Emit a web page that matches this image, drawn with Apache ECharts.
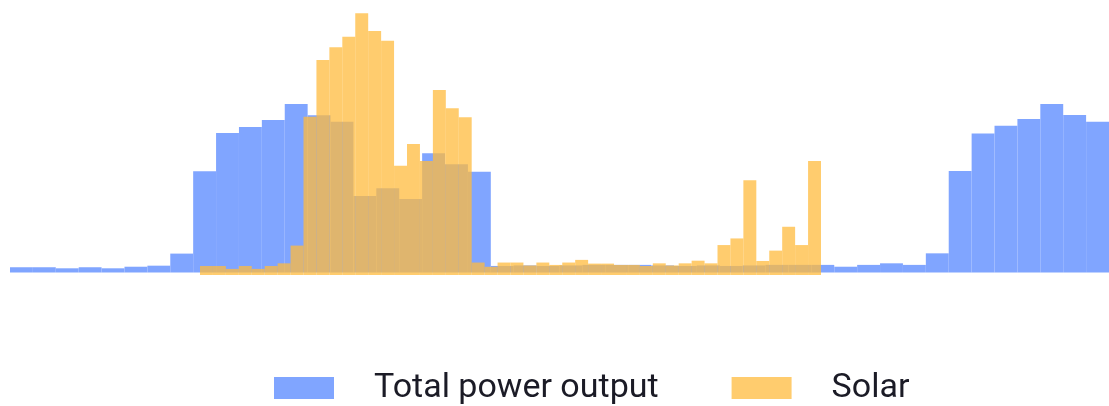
<!DOCTYPE html>
<html>
<head>
<meta charset="utf-8">
<script src="https://cdn.jsdelivr.net/npm/echarts@6/dist/echarts.min.js"></script>
<style>
  html, body { margin: 0; padding: 0; background: #fff; }
  #chart { width: 1109px; height: 406px; }
</style>
</head>
<body>
<div id="chart"></div>
<script>
// total output, one value per slot (share of peak, %)
const totalOutput = [
  2.0, 2.0, 1.6, 2.0, 1.6, 2.2, 2.6, 7.2, 38.6, 53.1, 55.4, 58.1,
  64.2, 59.9, 57.4, 29.1, 32.1, 28.0, 45.4, 41.2, 38.4, 2.5, 2.7, 2.5,
  2.7, 2.9, 2.9, 2.9, 2.7, 2.5, 2.7, 2.5, 2.7, 2.9, 2.9, 2.9,
  2.2, 2.9, 3.5, 2.9, 7.3, 38.7, 53.0, 55.9, 58.5, 64.2, 60.0, 57.4
]
// solar, finer slots over the middle of the range
const solar = [
  3.4, 3.4, 2.3, 3.4, 2.3, 3.4, 4.4, 11.1, 59.7, 81.1, 85.9, 89.9,
  98.8, 92.1, 88.4, 41.2, 49.4, 43.0, 69.8, 62.9, 59.5, 4.7, 3.1, 4.7,
  4.7, 3.6, 4.7, 3.8, 4.7, 5.7, 4.3, 4.3, 3.8, 3.8, 3.4, 4.4,
  3.6, 4.4, 5.4, 4.4, 11.3, 13.8, 35.8, 5.3, 9.2, 18.2, 11.3, 43.0
]
const seriesNames = ["Total power output", "Solar"]
const totalSlots = totalOutput.map(function (v, i) { return i })
const solarSlots = solar.map(function (v, i) { return i })

const chart = echarts.init(document.getElementById("chart"))
chart.setOption({
  animation: false,
  legend: {
    left: 269,
    top: 366,
    icon: "rect",
    itemWidth: 60,
    itemHeight: 22,
    itemGap: 73,
    textStyle: {
      fontFamily: "Roboto",
      fontSize: 34,
      lineHeight: 34,
      color: "#1b1b26",
      padding: [0, 0, 0, 35]
    },
    data: seriesNames
  },
  grid: [
    { left: 10, right: 0, top: 10, bottom: 133.5 },
    { left: 200, right: 288, top: 10, bottom: 131 }
  ],
  xAxis: [
    { type: "category", gridIndex: 0, data: totalSlots, show: false },
    { type: "category", gridIndex: 1, data: solarSlots, show: false }
  ],
  yAxis: [
    { type: "value", gridIndex: 0, min: 0, max: 100, show: false },
    { type: "value", gridIndex: 1, min: 0, max: 100, show: false }
  ],
  series: [
    {
      name: seriesNames[0],
      type: "bar",
      xAxisIndex: 0,
      yAxisIndex: 0,
      barCategoryGap: "0%",
      itemStyle: { color: "#80a5ff" },
      data: totalOutput,
      z: 2
    },
    {
      name: seriesNames[1],
      type: "bar",
      xAxisIndex: 1,
      yAxisIndex: 1,
      barCategoryGap: "0%",
      itemStyle: { color: "rgba(255,187,62,0.75)" },
      data: solar,
      z: 3
    }
  ]
})
</script>
</body>
</html>
